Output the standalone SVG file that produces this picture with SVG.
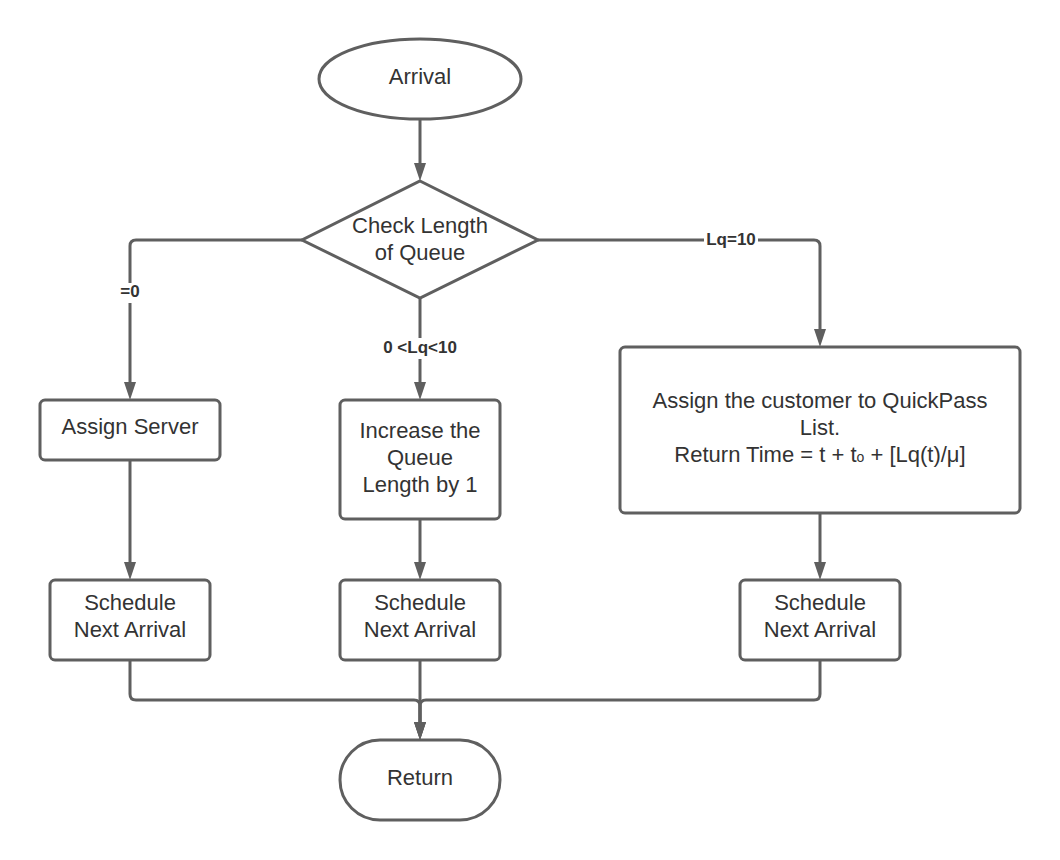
<svg xmlns="http://www.w3.org/2000/svg" width="1060" height="860" viewBox="0 0 1060 860">
  <style>
    .shape { fill: #ffffff; stroke: #5f5f5f; stroke-width: 3; }
    .conn { fill: none; stroke: #5f5f5f; stroke-width: 3; }
    .txt { font-family: "Liberation Sans", Arial, sans-serif; font-size: 22px; fill: #333333; text-anchor: middle; }
    .lbl { font-family: "Liberation Sans", Arial, sans-serif; font-size: 17px; font-weight: bold; fill: #333333; text-anchor: middle; }
    .lblbg { fill: #ffffff; stroke: none; }
  </style>
  <defs>
    <marker id="arrow" viewBox="0 0 18 12" markerWidth="18" markerHeight="12" refX="12" refY="6" orient="auto" markerUnits="userSpaceOnUse">
      <path d="M0,0 L18,6 L0,12 Z" fill="#5f5f5f"/>
    </marker>
  </defs>
  <rect width="1060" height="860" fill="#ffffff"/>

  <g id="connectors">
    <path class="conn" d="M420,119 V175" marker-end="url(#arrow)"/>
    <path class="conn" d="M302,240 H136 Q130,240 130,246 V394" marker-end="url(#arrow)"/>
    <path class="conn" d="M420,298 V394" marker-end="url(#arrow)"/>
    <path class="conn" d="M538,240 H814 Q820,240 820,246 V341" marker-end="url(#arrow)"/>
    <path class="conn" d="M130,460 V574" marker-end="url(#arrow)"/>
    <path class="conn" d="M420,520 V574" marker-end="url(#arrow)"/>
    <path class="conn" d="M820,513 V574" marker-end="url(#arrow)"/>
    <path class="conn" d="M130,660 V694 Q130,700 136,700 H414 Q420,700 420,706 V734" marker-end="url(#arrow)"/>
    <path class="conn" d="M420,660 V734" marker-end="url(#arrow)"/>
    <path class="conn" d="M820,660 V694 Q820,700 814,700 H426 Q420,700 420,706 V734" marker-end="url(#arrow)"/>
    <g id="connector-labels">
      <rect class="lblbg" x="116" y="283" width="28" height="20"/>
      <text class="lbl" x="130" y="297">=0</text>
      <rect class="lblbg" x="379" y="338" width="82" height="21"/>
      <text class="lbl" x="420" y="353">0 &lt;Lq&lt;10</text>
      <rect class="lblbg" x="704" y="230" width="54" height="20"/>
      <text class="lbl" x="731" y="245">Lq=10</text>
    </g>
  </g>

  <g id="arrival">
    <ellipse class="shape" cx="420" cy="79" rx="101" ry="40"/>
    <text class="txt" x="420" y="84">Arrival</text>
  </g>

  <g id="check-length">
    <polygon class="shape" points="420,181 538,240 420,298 302,240"/>
    <text class="txt" x="420" y="233">Check Length</text>
    <text class="txt" x="420" y="260">of Queue</text>
  </g>

  <g id="assign-server">
    <rect class="shape" x="40" y="400" width="180" height="60" rx="5"/>
    <text class="txt" x="130" y="434">Assign Server</text>
  </g>

  <g id="increase-queue">
    <rect class="shape" x="340" y="400" width="160" height="119" rx="5"/>
    <text class="txt" x="420" y="438">Increase the</text>
    <text class="txt" x="420" y="465">Queue</text>
    <text class="txt" x="420" y="492">Length by 1</text>
  </g>

  <g id="quickpass">
    <rect class="shape" x="620" y="347" width="400" height="166" rx="5"/>
    <text class="txt" x="820" y="408">Assign the customer to QuickPass</text>
    <text class="txt" x="820" y="435">List.</text>
    <text class="txt" x="820" y="462">Return Time = t + t<tspan font-size="14px">o</tspan> + [Lq(t)/μ]</text>
  </g>

  <g id="schedule-left">
    <rect class="shape" x="50" y="580" width="160" height="80" rx="5"/>
    <text class="txt" x="130" y="610">Schedule</text>
    <text class="txt" x="130" y="637">Next Arrival</text>
  </g>

  <g id="schedule-middle">
    <rect class="shape" x="340" y="580" width="160" height="80" rx="5"/>
    <text class="txt" x="420" y="610">Schedule</text>
    <text class="txt" x="420" y="637">Next Arrival</text>
  </g>

  <g id="schedule-right">
    <rect class="shape" x="740" y="580" width="160" height="80" rx="5"/>
    <text class="txt" x="820" y="610">Schedule</text>
    <text class="txt" x="820" y="637">Next Arrival</text>
  </g>

  <g id="return">
    <rect class="shape" x="340" y="740" width="160" height="80" rx="40"/>
    <text class="txt" x="420" y="785">Return</text>
  </g>
</svg>
